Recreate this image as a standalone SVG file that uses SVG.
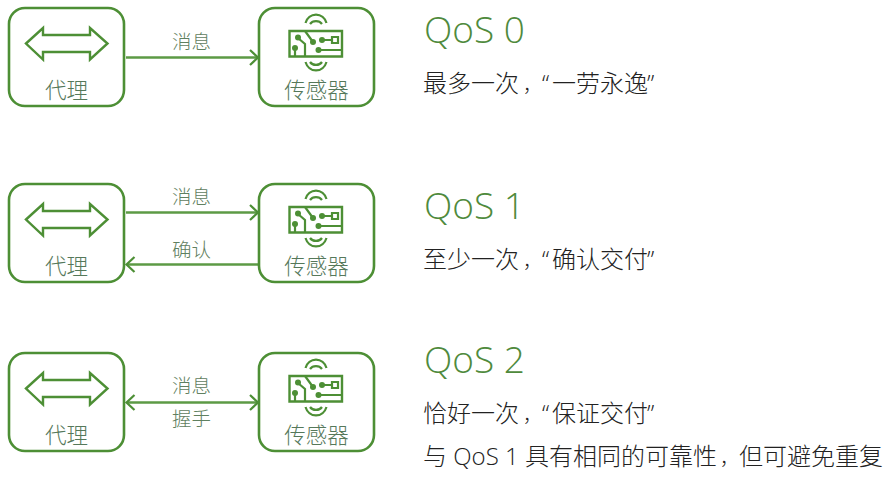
<svg xmlns="http://www.w3.org/2000/svg" width="890" height="477" viewBox="0 0 890 477">
<style>
.box{fill:#fff;stroke:#4d8f35;stroke-width:2.6}
.ic{fill:none;stroke:#4d8f35;stroke-width:2.4}
.thin{fill:none;stroke:#4d8f35;stroke-width:2.2}
.dot{fill:#4d8f35}
.conn{fill:none;stroke:#5c9a45;stroke-width:2.4}
.head{fill:none;stroke:#4d8f35;stroke-width:2.2}
text{font-family:"Open Sans","Noto Sans CJK SC",sans-serif;font-weight:300}
.nl{font-size:21.5px;fill:#55785a;text-anchor:middle;font-family:"Noto Sans CJK SC",sans-serif}
.el{font-size:19.5px;fill:#5f8060;text-anchor:middle;font-family:"Noto Sans CJK SC",sans-serif}
.h{font-size:37px;fill:#4f8a3c}
.b{font-size:24px;fill:#222}
.c{font-size:18.5px}
</style>
<defs>
<g id="broker">
<rect class="box" x="9" y="8" width="115" height="98" rx="16"/>
<path class="ic" d="M26 43.500L43 28V35H90V28L107.500 43.500L90 59.500V52H43V59.500Z"/>
<text class="nl" x="66.500" y="98">代理</text>
</g>
<g id="sensor">
<rect class="box" x="259" y="8" width="115" height="98" rx="16"/>
<path class="ic" d="M289.500 31H342V56.500H289.500Z"/>
<path class="thin" d="M305.500 23A11 12 0 0 1 326.500 23M310 24A7 6 0 0 1 322 24M305.500 62A11 12 0 0 0 326.500 62M310 62A7 6 0 0 0 322 62"/>
<path class="thin" d="M298 38L305 44V56M305 31L313 42M322 40H332M295 48V56M319 50H342"/>
<path class="thin" d="M332 37H338V43H332Z"/>
<circle class="dot" cx="295" cy="48" r="3"/><circle class="dot" cx="298" cy="37.500" r="3"/>
<circle class="dot" cx="313" cy="42" r="3"/><circle class="dot" cx="322" cy="40" r="3"/><circle class="dot" cx="318.500" cy="50" r="3"/>
<text class="nl" x="316.500" y="98">传感器</text>
</g>
<path id="hr" class="head" d="M-8 -7.500L0 0L-8 7.500"/>
<path id="hl" class="head" d="M8 -7.500L0 0L8 7.500"/>
</defs>
<g id="connectors">
<path class="conn" d="M126 57.500H258"/><use href="#hr" x="258" y="57.500"/>
<path class="conn" d="M126 212.500H258"/><use href="#hr" x="258" y="212.500"/>
<path class="conn" d="M127 264.500H258"/><use href="#hl" x="126.500" y="264.500"/>
<path class="conn" d="M127 402.500H258"/><use href="#hr" x="258" y="402.500"/><use href="#hl" x="126.500" y="402.500"/>
</g>
<g id="broker0"><use href="#broker"/></g>
<g id="sensor0"><use href="#sensor"/></g>
<g id="broker1"><use href="#broker" y="176"/></g>
<g id="sensor1"><use href="#sensor" y="176"/></g>
<g id="broker2"><use href="#broker" y="345"/></g>
<g id="sensor2"><use href="#sensor" y="345"/></g>
<g id="labels">
<text class="el" x="191.500" y="49">消息</text>
<text class="el" x="191.500" y="204">消息</text>
<text class="el" x="191.500" y="257">确认</text>
<text class="el" x="191.500" y="393">消息</text>
<text class="el" x="191.500" y="426">握手</text>
</g>
<g id="qos0">
<text class="h" x="424" y="43">QoS 0</text>
<text class="b" x="423" y="92">最多一次<tspan class="c" x="523">，</tspan><tspan x="542">“</tspan><tspan x="552">一劳永逸</tspan><tspan x="647">”</tspan></text>
</g>
<g id="qos1">
<text class="h" x="424" y="219">QoS 1</text>
<text class="b" x="423" y="268">至少一次<tspan class="c" x="523">，</tspan><tspan x="542">“</tspan><tspan x="552">确认交付</tspan><tspan x="647">”</tspan></text>
</g>
<g id="qos2">
<text class="h" x="424" y="373">QoS 2</text>
<text class="b" x="423" y="422">恰好一次<tspan class="c" x="523">，</tspan><tspan x="542">“</tspan><tspan x="552">保证交付</tspan><tspan x="647">”</tspan></text>
<text class="b" x="423" y="465">与 QoS 1 <tspan x="525">具有相同的可靠性</tspan><tspan class="c" x="720">，</tspan><tspan x="739">但可避免重复</tspan></text>
</g>
</svg>
